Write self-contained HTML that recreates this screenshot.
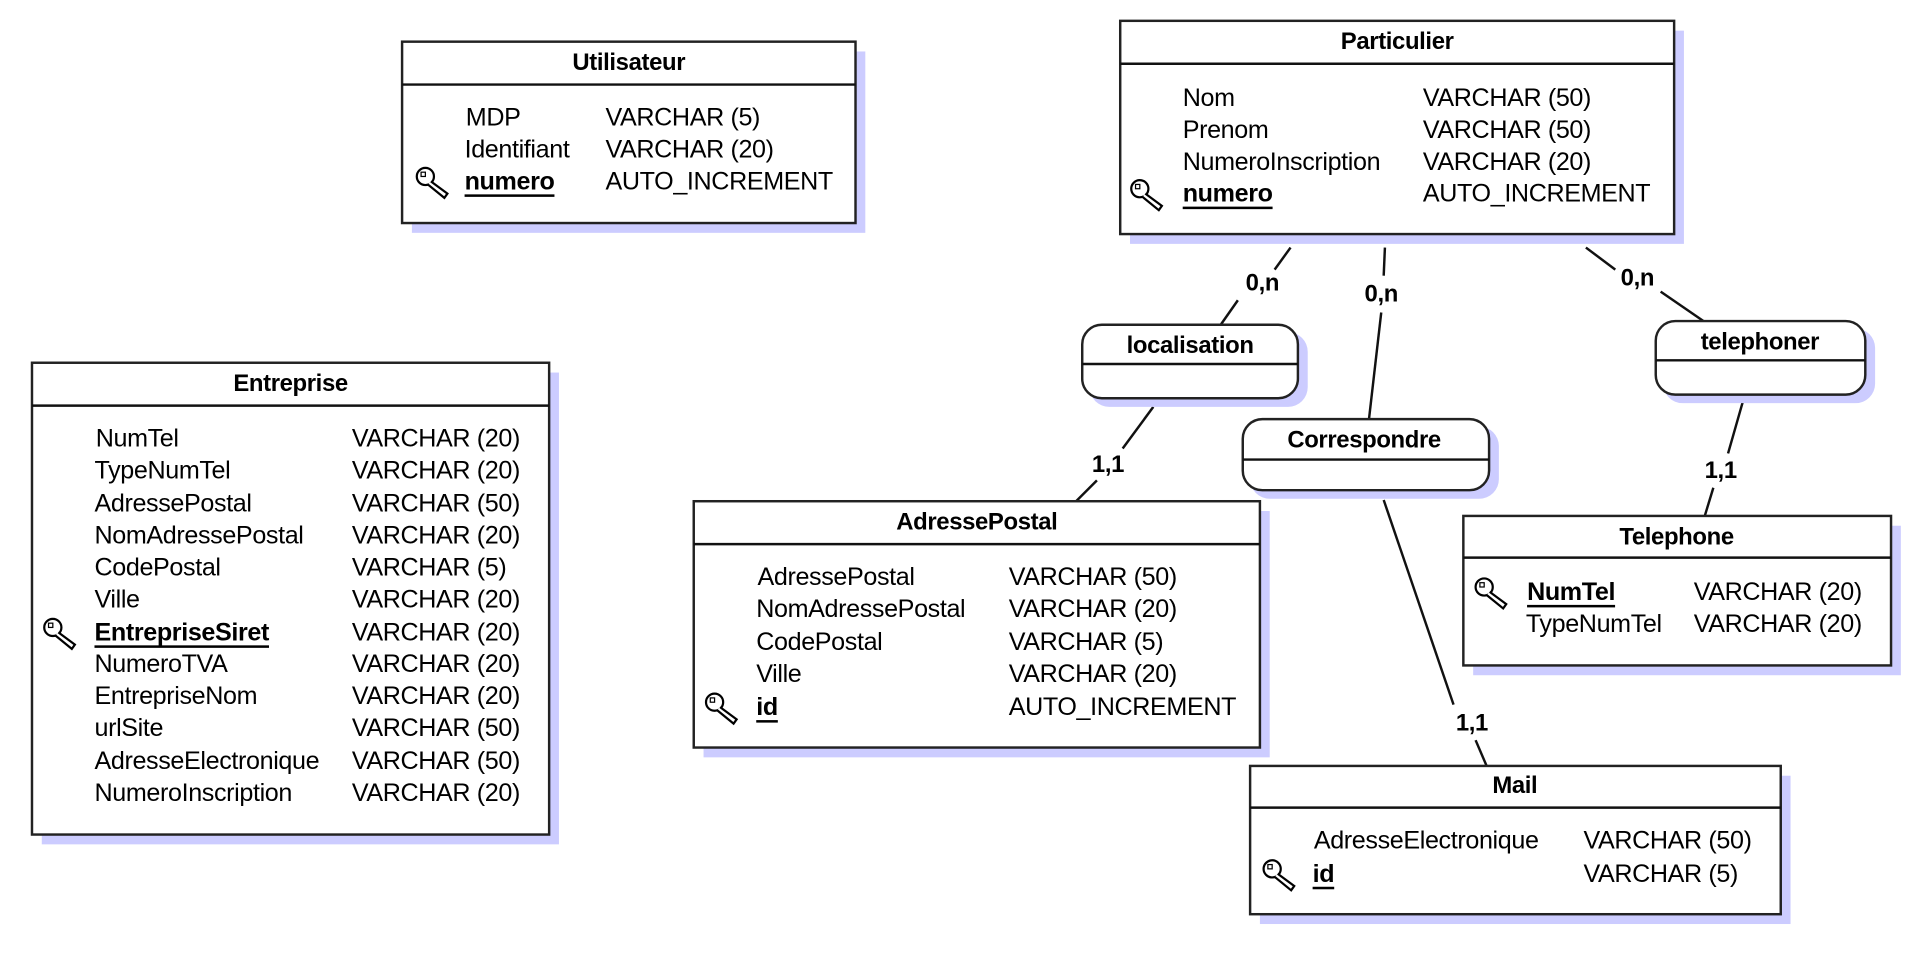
<!DOCTYPE html>
<html><head><meta charset="utf-8"><style>
html,body{margin:0;padding:0;background:#fff;}
svg{display:block;}
text{font-family:"Liberation Sans",Arial,sans-serif;fill:#000;dominant-baseline:central;}
.t{font-size:20.5px;letter-spacing:-0.3px;}
.h{font-size:19.5px;font-weight:bold;text-anchor:middle;letter-spacing:-0.3px;}
.k{font-weight:bold;text-decoration:underline;}
.c{font-size:19.5px;font-weight:bold;text-anchor:middle;letter-spacing:-0.3px;}
.b{fill:#fff;stroke:#222;stroke-width:2;}
.s{fill:#ccccff;}
.l{stroke:#111;stroke-width:2;fill:none;}
</style></head><body>
<svg width="1912" height="962" viewBox="0 0 1560 785" xmlns="http://www.w3.org/2000/svg">
<defs>
<g id="key"><circle cx="8" cy="8" r="7" fill="#fff" stroke="#000" stroke-width="1.8"/><rect x="4.5" y="4.5" width="3.5" height="3.5" fill="none" stroke="#000" stroke-width="1"/><path d="M12.5 12 L26 22 L23.5 25.5 L10 14.5" fill="#fff" stroke="#000" stroke-width="1.8"/></g>
</defs>

<line class="l" x1="1053" y1="202" x2="1040" y2="220"/><line class="l" x1="1010" y1="245" x2="996" y2="265"/>
<line class="l" x1="1130" y1="202" x2="1129" y2="225"/><line class="l" x1="1127" y1="255" x2="1117" y2="342"/>
<line class="l" x1="1294" y1="202" x2="1318" y2="220"/><line class="l" x1="1355" y1="238" x2="1390" y2="262"/>
<line class="l" x1="941" y1="332" x2="916" y2="366"/><line class="l" x1="895" y1="392" x2="878" y2="409"/>
<line class="l" x1="1129" y1="408" x2="1186" y2="575"/><line class="l" x1="1204" y1="604" x2="1213" y2="625"/>
<line class="l" x1="1422" y1="328" x2="1410" y2="370"/><line class="l" x1="1398" y1="398" x2="1391" y2="421"/>
<text class="c" x="1030" y="231">0,n</text>
<text class="c" x="1127" y="240">0,n</text>
<text class="c" x="1336" y="227">0,n</text>
<text class="c" x="904" y="379">1,1</text>
<text class="c" x="1201" y="590">1,1</text>
<text class="c" x="1404" y="384">1,1</text>

<rect class="s" x="336" y="42" width="370" height="148"/>
<rect class="b" x="328" y="34" width="370" height="148"/>
<line class="l" x1="328" y1="69" x2="698" y2="69"/>
<text class="h" x="513" y="51">Utilisateur</text>
<text class="t" x="380" y="96">MDP</text><text class="t" x="494" y="96">VARCHAR (5)</text>
<text class="t" x="379" y="122">Identifiant</text><text class="t" x="494" y="122">VARCHAR (20)</text>
<use href="#key" x="339" y="136"/>
<text class="t k" x="379" y="148">numero</text><text class="t" x="494" y="148">AUTO_INCREMENT</text>

<rect class="s" x="922" y="25" width="452" height="174"/>
<rect class="b" x="914" y="17" width="452" height="174"/>
<line class="l" x1="914" y1="52" x2="1366" y2="52"/>
<text class="h" x="1140" y="34">Particulier</text>
<text class="t" x="965" y="80">Nom</text><text class="t" x="1161" y="80">VARCHAR (50)</text>
<text class="t" x="965" y="106">Prenom</text><text class="t" x="1161" y="106">VARCHAR (50)</text>
<text class="t" x="965" y="132">NumeroInscription</text><text class="t" x="1161" y="132">VARCHAR (20)</text>
<use href="#key" x="922" y="146"/>
<text class="t k" x="965" y="158">numero</text><text class="t" x="1161" y="158">AUTO_INCREMENT</text>

<rect class="s" x="34" y="304" width="422" height="385"/>
<rect class="b" x="26" y="296" width="422" height="385"/>
<line class="l" x1="26" y1="331" x2="448" y2="331"/>
<text class="h" x="237" y="313">Entreprise</text>
<text class="t" x="78" y="358">NumTel</text><text class="t" x="287" y="358">VARCHAR (20)</text>
<text class="t" x="77" y="384">TypeNumTel</text><text class="t" x="287" y="384">VARCHAR (20)</text>
<text class="t" x="77" y="411">AdressePostal</text><text class="t" x="287" y="411">VARCHAR (50)</text>
<text class="t" x="77" y="437">NomAdressePostal</text><text class="t" x="287" y="437">VARCHAR (20)</text>
<text class="t" x="77" y="463">CodePostal</text><text class="t" x="287" y="463">VARCHAR (5)</text>
<text class="t" x="77" y="489">Ville</text><text class="t" x="287" y="489">VARCHAR (20)</text>
<use href="#key" x="35" y="504"/>
<text class="t k" x="77" y="516">EntrepriseSiret</text><text class="t" x="287" y="516">VARCHAR (20)</text>
<text class="t" x="77" y="542">NumeroTVA</text><text class="t" x="287" y="542">VARCHAR (20)</text>
<text class="t" x="77" y="568">EntrepriseNom</text><text class="t" x="287" y="568">VARCHAR (20)</text>
<text class="t" x="77" y="594">urlSite</text><text class="t" x="287" y="594">VARCHAR (50)</text>
<text class="t" x="77" y="621">AdresseElectronique</text><text class="t" x="287" y="621">VARCHAR (50)</text>
<text class="t" x="77" y="647">NumeroInscription</text><text class="t" x="287" y="647">VARCHAR (20)</text>

<rect class="s" x="574" y="417" width="462" height="201"/>
<rect class="b" x="566" y="409" width="462" height="201"/>
<line class="l" x1="566" y1="444" x2="1028" y2="444"/>
<text class="h" x="797" y="426">AdressePostal</text>
<text class="t" x="618" y="471">AdressePostal</text><text class="t" x="823" y="471">VARCHAR (50)</text>
<text class="t" x="617" y="497">NomAdressePostal</text><text class="t" x="823" y="497">VARCHAR (20)</text>
<text class="t" x="617" y="524">CodePostal</text><text class="t" x="823" y="524">VARCHAR (5)</text>
<text class="t" x="617" y="550">Ville</text><text class="t" x="823" y="550">VARCHAR (20)</text>
<use href="#key" x="575" y="565"/>
<text class="t k" x="617" y="577">id</text><text class="t" x="823" y="577">AUTO_INCREMENT</text>

<rect class="s" x="1202" y="429" width="349" height="122"/>
<rect class="b" x="1194" y="421" width="349" height="122"/>
<line class="l" x1="1194" y1="455" x2="1543" y2="455"/>
<text class="h" x="1368" y="438">Telephone</text>
<use href="#key" x="1203" y="471"/>
<text class="t k" x="1246" y="483">NumTel</text><text class="t" x="1382" y="483">VARCHAR (20)</text>
<text class="t" x="1245" y="509">TypeNumTel</text><text class="t" x="1382" y="509">VARCHAR (20)</text>

<rect class="s" x="1028" y="633" width="433" height="121"/>
<rect class="b" x="1020" y="625" width="433" height="121"/>
<line class="l" x1="1020" y1="659" x2="1453" y2="659"/>
<text class="h" x="1236" y="641">Mail</text>
<text class="t" x="1072" y="686">AdresseElectronique</text><text class="t" x="1292" y="686">VARCHAR (50)</text>
<use href="#key" x="1030" y="701"/>
<text class="t k" x="1071" y="713">id</text><text class="t" x="1292" y="713">VARCHAR (5)</text>

<rect class="s" x="889" y="271" width="178" height="61" rx="16"/>
<rect class="b" x="883" y="265" width="176" height="60" rx="16"/>
<line class="l" x1="883" y1="297" x2="1059" y2="297"/>
<text class="c" x="971" y="282">localisation</text>

<rect class="s" x="1020" y="348" width="203" height="59" rx="16"/>
<rect class="b" x="1014" y="342" width="201" height="58" rx="16"/>
<line class="l" x1="1014" y1="375" x2="1215" y2="375"/>
<text class="c" x="1113" y="359">Correspondre</text>

<rect class="s" x="1357" y="268" width="173" height="61" rx="16"/>
<rect class="b" x="1351" y="262" width="171" height="60" rx="16"/>
<line class="l" x1="1351" y1="294" x2="1522" y2="294"/>
<text class="c" x="1436" y="279">telephoner</text>
</svg>
</body></html>
